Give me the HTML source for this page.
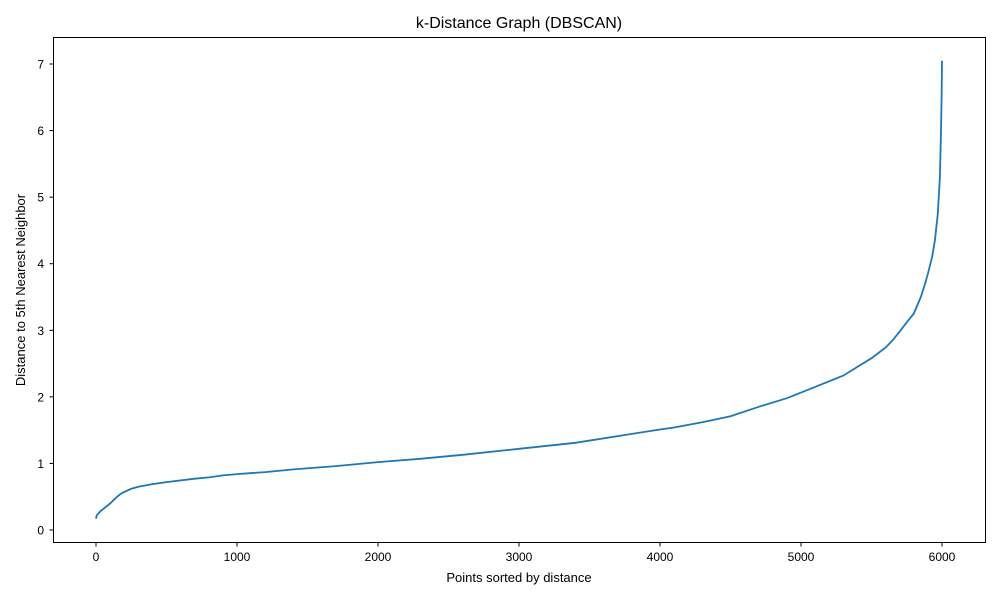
<!DOCTYPE html>
<html><head><meta charset="utf-8"><style>
body{margin:0;background:#fff;font-family:"Liberation Sans","DejaVu Sans",sans-serif;}
</style></head><body>
<svg width="1000" height="600" xmlns="http://www.w3.org/2000/svg" id="chart">
<rect width="1000" height="600" fill="#fff"/>
<text x="519" y="28" font-size="16" text-anchor="middle">k-Distance Graph (DBSCAN)</text>
<g id="xticks"></g>
<g id="yticks"></g>
<path id="line" fill="none" stroke="#1f77b4" stroke-width="1.8"/>
<rect x="53.5" y="37.5" width="932" height="505" fill="none" stroke="#000" stroke-width="1"/>
<text x="519" y="582" font-size="13" text-anchor="middle">Points sorted by distance</text>
<text transform="translate(25,290) rotate(-90)" font-size="13" text-anchor="middle">Distance to 5th Nearest Neighbor</text>
</svg>
<script>
const pointIndex=[0,5,30,60,100,150,180,250,300,400,500,700,800,900,1000,1200,1400,1700,2000,2300,2600,3000,3400,3700,4000,4100,4300,4500,4700,4900,5100,5300,5400,5500,5600,5650,5700,5750,5800,5850,5880,5900,5930,5950,5970,5985,5993,5997,6000];
const distances=[0.17,0.22,0.28,0.33,0.40,0.50,0.55,0.62,0.65,0.69,0.72,0.77,0.79,0.82,0.84,0.87,0.91,0.96,1.02,1.07,1.13,1.22,1.31,1.41,1.51,1.54,1.62,1.71,1.85,1.98,2.15,2.32,2.45,2.58,2.74,2.85,2.98,3.12,3.25,3.5,3.7,3.85,4.1,4.35,4.75,5.3,6.0,6.5,7.05];
const xTicks=[0,1000,2000,3000,4000,5000,6000];
const yTicks=[0,1,2,3,4,5,6,7];
const sx=v=>96+v*0.141;
const sy=v=>530-v*66.57;
const NS="http://www.w3.org/2000/svg";
const xg=document.getElementById('xticks'),yg=document.getElementById('yticks');
xTicks.forEach(t=>{
 const l=document.createElementNS(NS,'line');
 
 
 l.setAttribute('x1',sx(t));l.setAttribute('x2',sx(t));l.setAttribute('y1',542.5);l.setAttribute('y2',546.5);l.setAttribute('stroke','#000');
 xg.appendChild(l);
 const tx=document.createElementNS(NS,'text');
 
 
 tx.setAttribute('x',sx(t));tx.setAttribute('y',561);tx.setAttribute('font-size','12');tx.setAttribute('text-anchor','middle');
 tx.textContent=t;xg.appendChild(tx);
});
yTicks.forEach(t=>{
 const l=document.createElementNS(NS,'line');
 
 
 l.setAttribute('x1',49.5);l.setAttribute('x2',53.5);l.setAttribute('y1',sy(t));l.setAttribute('y2',sy(t));l.setAttribute('stroke','#000');
 yg.appendChild(l);
 const tx=document.createElementNS(NS,'text');
 
 
 tx.setAttribute('x',44);tx.setAttribute('y',sy(t)+4.5);tx.setAttribute('font-size','12');tx.setAttribute('text-anchor','end');
 tx.textContent=t;yg.appendChild(tx);
});
document.getElementById('line').setAttribute('d',pointIndex.map((p,i)=>(i?'L':'M')+sx(p).toFixed(1)+','+sy(distances[i]).toFixed(1)).join(''));
</script>
</body></html>
